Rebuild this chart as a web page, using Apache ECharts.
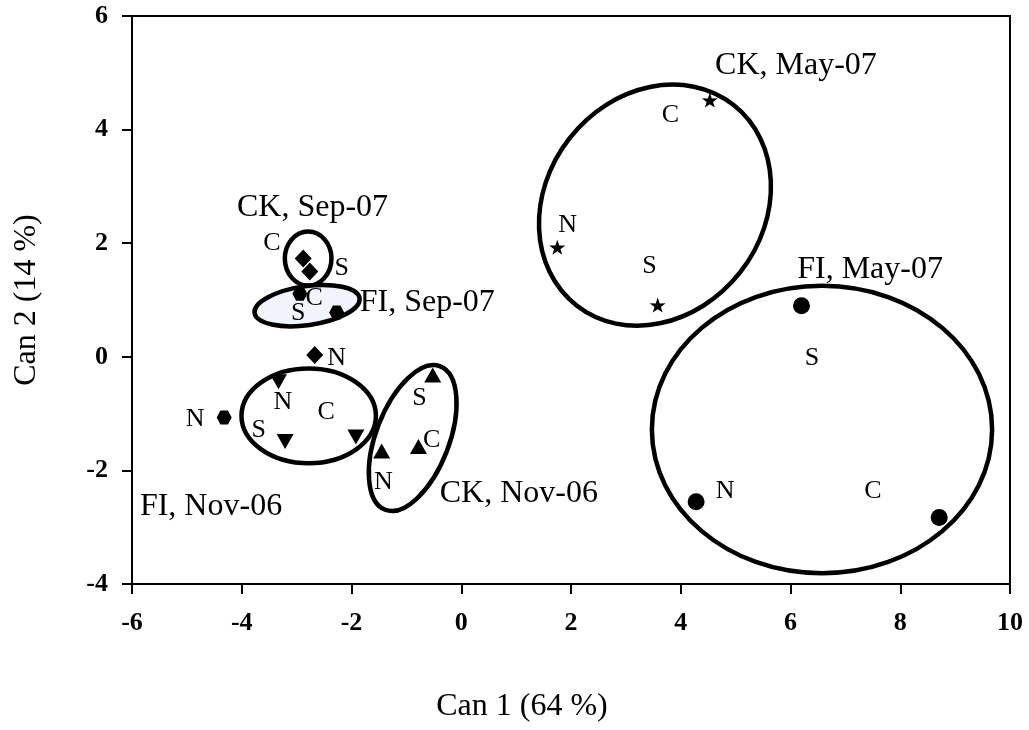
<!DOCTYPE html>
<html>
<head>
<meta charset="utf-8">
<script src="https://cdn.jsdelivr.net/npm/echarts@6/dist/echarts.min.js"></script>
<style>
  html, body { margin: 0; padding: 0; background: #fff; }
  #chart { width: 1029px; height: 730px; }
</style>
</head>
<body>
<div id="chart"></div>
<script>
// ---- Data ----
const xTicks = [-6, -4, -2, 0, 2, 4, 6, 8, 10];
const yTicks = [-4, -2, 0, 2, 4, 6];
const xTitle = 'Can 1 (64 %)';
const yTitle = 'Can 2 (14 %)';

// canonical scores [Can1, Can2]
const ckMay07 = [[4.53, 4.52], [1.75, 1.93], [3.58, 0.91]];
const fiMay07 = [[6.20, 0.90], [4.28, -2.55], [8.71, -2.83]];
const ckSep07 = [[-2.88, 1.73], [-2.76, 1.50], [-2.67, 0.03]];
const fiSep07 = [[-2.94, 1.11], [-2.27, 0.78], [-4.32, -1.07]];
const fiNov06 = [[-3.33, -0.44], [-3.21, -1.49], [-1.92, -1.41]];
const ckNov06 = [[-0.52, -0.32], [-0.78, -1.58], [-1.45, -1.66]];

// point labels [text, x, y]
const letterLabels = [
  ['C', 3.81, 4.25], ['N', 1.94, 2.32], ['S', 3.43, 1.60],
  ['S', 6.39, -0.03], ['N', 4.81, -2.37], ['C', 7.50, -2.37],
  ['C', -3.45, 2.00], ['S', -2.18, 1.56], ['N', -2.27, -0.03],
  ['C', -2.68, 1.03], ['S', -2.97, 0.77], ['N', -4.85, -1.10],
  ['N', -3.25, -0.79], ['S', -3.69, -1.29], ['C', -2.46, -0.97],
  ['S', -0.76, -0.73], ['C', -0.54, -1.46], ['N', -1.42, -2.20]
];
// group labels [text, x, y]
const groupLabels = [
  ['CK, May-07', 6.10, 5.12],
  ['FI, May-07', 7.45, 1.53],
  ['CK, Sep-07', -2.71, 2.62],
  ['FI, Sep-07', -0.62, 0.96],
  ['FI, Nov-06', -4.56, -2.64],
  ['CK, Nov-06', 1.05, -2.40]
];
// group ellipses [centerX, centerY, radiusX, radiusY, angleDeg]
const ellipseNames = ['CK, May-07', 'FI, May-07', 'CK, Sep-07', 'FI, Sep-07', 'FI, Nov-06', 'CK, Nov-06'];
const ellipses = [
  [3.53, 2.67, 2.32, 1.91, 52],
  [6.574, -1.28, 3.10, 2.53, 0],
  [-2.79, 1.73, 0.425, 0.475, 0],
  [-2.81, 0.90, 0.966, 0.343, 8],
  [-2.78, -1.04, 1.225, 0.836, 0],
  [-0.885, -1.43, 1.40, 0.644, 69]
];

// ---- Chart ----
const serif = "'Liberation Serif', 'Times New Roman', serif";
const ellipseFill = { 'FI, Sep-07': '#f1f4fb' };
const chart = echarts.init(document.getElementById('chart'), null, { renderer: 'canvas' });

const starPath = 'path://M50,0 L61.8,35.1 L97.6,34.5 L69.1,57.1 L79.4,90.5 L50,70 L20.6,90.5 L30.9,57.1 L2.4,34.5 L38.2,35.1 Z';
const hexPath = 'path://M0,43.3 L25,0 L75,0 L100,43.3 L75,86.6 L25,86.6 Z';

function pointSeries(name, data, symbol, size, rotate) {
  return {
    name: name, type: 'scatter', data: data, symbol: symbol, symbolSize: size,
    symbolRotate: rotate || 0,
    itemStyle: { color: '#000', opacity: 1 }, z: 5, silent: true
  };
}

function textSeries(list, fontSize) {
  return {
    type: 'custom', z: 6, silent: true,
    data: list.map(d => [d[1], d[2]]),
    renderItem: function (params, api) {
      const c = api.coord([api.value(0), api.value(1)]);
      return {
        type: 'text', x: c[0], y: c[1],
        style: {
          text: list[params.dataIndex][0], fill: '#000',
          fontSize: fontSize, fontFamily: serif,
          align: 'center', verticalAlign: 'middle'
        }
      };
    }
  };
}

const option = {
  animation: false,
  backgroundColor: '#fff',
  grid: {
    left: 132, right: 19, top: 16, bottom: 146,
    show: true, borderColor: '#000', borderWidth: 2, backgroundColor: 'transparent'
  },
  xAxis: {
    type: 'value',
    min: xTicks[0], max: xTicks[xTicks.length - 1], interval: xTicks[1] - xTicks[0],
    name: xTitle, nameLocation: 'middle', nameGap: 107,
    nameTextStyle: { fontFamily: serif, fontSize: 32, color: '#000', padding: [0, 98, 0, 0] },
    axisLine: { show: true, onZero: false, lineStyle: { color: '#000', width: 2 } },
    axisTick: { show: true, inside: false, length: 10, lineStyle: { color: '#000', width: 2 } },
    axisLabel: { fontFamily: serif, fontSize: 26, fontWeight: 'bold', color: '#000', margin: 26 },
    splitLine: { show: false }
  },
  yAxis: {
    type: 'value',
    min: yTicks[0], max: yTicks[yTicks.length - 1], interval: yTicks[1] - yTicks[0],
    name: yTitle, nameLocation: 'middle', nameGap: 89,
    nameTextStyle: { fontFamily: serif, fontSize: 32, color: '#000' },
    axisLine: { show: true, onZero: false, lineStyle: { color: '#000', width: 2 } },
    axisTick: { show: true, inside: false, length: 10, lineStyle: { color: '#000', width: 2 } },
    axisLabel: { fontFamily: serif, fontSize: 26, fontWeight: 'bold', color: '#000', margin: 24 },
    splitLine: { show: false }
  },
  series: [
    {
      type: 'custom', z: 2, silent: true,
      data: ellipses,
      renderItem: function (params, api) {
        const c = api.coord([api.value(0), api.value(1)]);
        const s = api.size([api.value(2), api.value(3)]);
        const nm = ellipseNames[params.dataIndex];
        return {
          type: 'ellipse', x: c[0], y: c[1],
          rotation: api.value(4) * Math.PI / 180,
          shape: { cx: 0, cy: 0, rx: s[0], ry: s[1] },
          style: { fill: ellipseFill[nm] || 'none', stroke: '#000', lineWidth: 4.5 }
        };
      }
    },
    pointSeries('CK, May-07', ckMay07, starPath, [16, 15]),
    pointSeries('FI, May-07', fiMay07, 'circle', 17),
    pointSeries('CK, Sep-07', ckSep07, 'diamond', [17, 18]),
    pointSeries('FI, Sep-07', fiSep07, hexPath, [15, 14]),
    pointSeries('FI, Nov-06', fiNov06, 'triangle', [17, 15], 180),
    pointSeries('CK, Nov-06', ckNov06, 'triangle', [17, 15]),
    textSeries(letterLabels, 26),
    textSeries(groupLabels, 32)
  ]
};
chart.setOption(option);
</script>
</body>
</html>
